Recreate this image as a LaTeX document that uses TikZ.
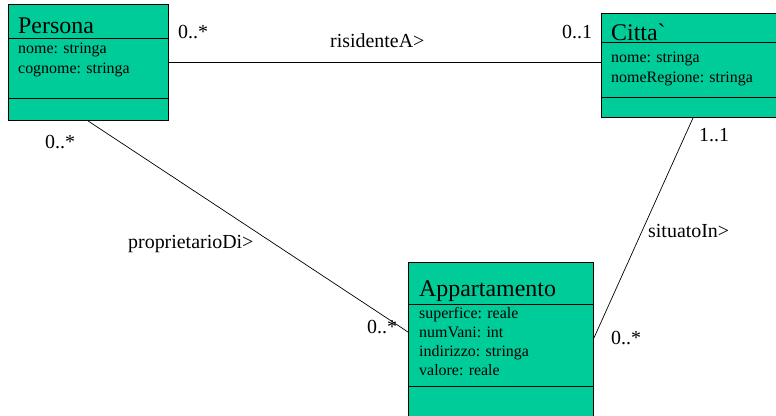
\documentclass[tikz,border=0pt]{standalone}
\usepackage{fontspec}
\setmainfont{Liberation Serif}
\newfontfamily\nomapserif{Liberation Serif}[Ligatures=TeXOff]
\definecolor{umlgreen}{HTML}{00CC99}
\begin{document}
\begin{tikzpicture}[x=1bp,y=-1bp,
  cls/.style={draw, fill=umlgreen, anchor=north west, inner sep=0pt, line width=0.9bp},
  divider/.style={line width=0.9bp},
  title/.style={anchor=base west, font=\fontsize{24}{26}\selectfont, inner sep=0pt},
  attr/.style={anchor=base west, font=\fontsize{16}{18}\selectfont, inner sep=0pt},
  lbl/.style={anchor=base west, font=\fontsize{20}{22}\selectfont, inner sep=0pt},
  conn/.style={line width=0.7bp}]
\useasboundingbox (0,0) rectangle (776,415);
\clip (0,0) rectangle (776,415);
% Persona
\node[cls, minimum width=160bp, minimum height=116bp] (P) at (8,4) {};
\draw[divider] ([yshift=-34bp]P.north west) -- ([yshift=-34bp]P.north east);
\draw[divider] ([yshift=-94bp]P.north west) -- ([yshift=-94bp]P.north east);
\node[title] (Pt) at (18,33) {Persona};
\node[attr] (Pa1) at (18,53) {nome: stringa};
\node[attr] (Pa2) at (18,73) {cognome: stringa};
% Citta
\node[cls, minimum width=176bp, minimum height=104bp] (C) at (601,13) {};
\draw[divider] ([yshift=-29bp]C.north west) -- ([yshift=-29bp]C.north east);
\draw[divider] ([yshift=-84bp]C.north west) -- ([yshift=-84bp]C.north east);
\node[title] (Ct) at (611,40.5) {\nomapserif Citta`};
\node[attr] (Ca1) at (611,62) {nome: stringa};
\node[attr] (Ca2) at (611,82) {nomeRegione: stringa};
% Appartamento
\node[cls, minimum width=185bp, minimum height=170bp] (A) at (408,262) {};
\draw[divider] ([yshift=-42bp]A.north west) -- ([yshift=-42bp]A.north east);
\draw[divider] ([yshift=-124bp]A.north west) -- ([yshift=-124bp]A.north east);
\node[title] (At) at (419,296) {Appartamento};
\node[attr] (Aa1) at (419,318) {superfice: reale};
\node[attr] (Aa2) at (419,337) {numVani: int};
\node[attr] (Aa3) at (419,356) {indirizzo: stringa};
\node[attr] (Aa4) at (419,375) {valore: reale};
% connectors
\draw[conn] (P.east) -- (P.east -| C.west);
\draw[conn] ([xshift=80bp]P.south west) -- ([yshift=-70bp]A.north west);
\draw[conn] ([xshift=92bp]C.south west) -- ([yshift=-76bp]A.north east);
% labels
\node[lbl] (l1) at (178,38) {0..*};
\node[lbl] (l2) at (330,47) {risidenteA>};
\node[lbl] (l3) at (562,38) {0..1};
\node[lbl] (l4) at (699,141) {1..1};
\node[lbl] (l5) at (45,148) {0..*};
\node[lbl] (l6) at (128,248) {proprietarioDi>};
\node[lbl] (l7) at (648,237) {situatoIn>};
\node[lbl] (l8) at (367,333) {0..*};
\node[lbl] (l9) at (611,344) {0..*};
\end{tikzpicture}
\end{document}
